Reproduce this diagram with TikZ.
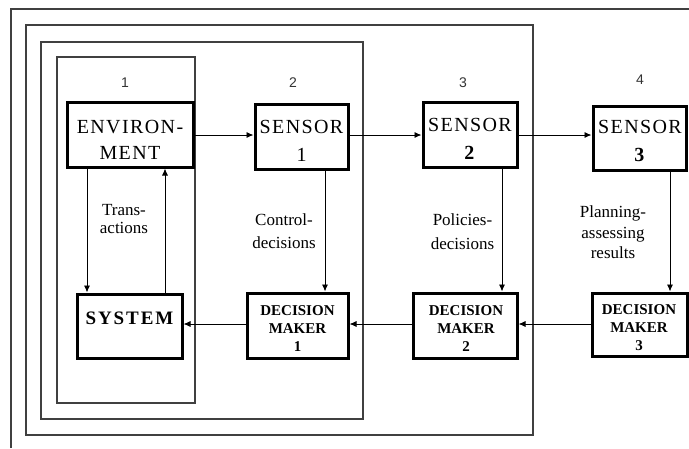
\documentclass[tikz,border=0pt]{standalone}
\usepackage{fontspec}
\setmainfont{Liberation Serif}
\newfontfamily\arialf{Liberation Sans}
\newfontfamily\spacedf[LetterSpace=7]{Liberation Serif}
\newfontfamily\spacedbf[LetterSpace=10]{Liberation Serif Bold}
\usetikzlibrary{arrows.meta}
\begin{document}
\begin{tikzpicture}[x=1pt,y=-1pt,
  frame/.style={draw=black!75,line width=1.2pt},
  box/.style={draw=black,line width=3pt,inner sep=0pt,fill=white},
  arr/.style={draw=black,line width=0.9pt,-{Latex[length=7pt,width=6pt]}},
  big/.style={font=\spacedf\fontsize{20}{26}\selectfont,align=center,inner sep=0pt},
  sysf/.style={font=\spacedbf\fontsize{19}{22}\selectfont,inner sep=0pt},
  dmf/.style={font=\bfseries\fontsize{15}{18}\selectfont,align=center,inner sep=0pt},
  lab/.style={font=\fontsize{17}{21}\selectfont,align=center,inner sep=0pt},
  num/.style={font=\arialf\fontsize{14}{16}\selectfont,text=black!80,inner sep=0pt}]
\useasboundingbox[fill=white] (0,0) rectangle (689,448);
% frames
\draw[frame] (11,448) -- (11,9) -- (689,9);
\draw[frame] (26,25) rectangle (533,435);
\draw[frame] (41,42) rectangle (363,419);
\draw[frame] (57,57) rectangle (195,403);
% boxes
\node[box,minimum width=126,minimum height=65] (env) at (130,134.5) {};
\node[box,minimum width=93,minimum height=65] (s1) at (301.5,136.5) {};
\node[box,minimum width=94,minimum height=65] (s2) at (470,134.5) {};
\node[box,minimum width=93,minimum height=64] (s3) at (639.5,138) {};
\node[box,minimum width=105,minimum height=64] (sys) at (129.5,326) {};
\node[box,minimum width=101,minimum height=65] (dm1) at (297.5,325.5) {};
\node[box,minimum width=104,minimum height=65] (dm2) at (465,325.5) {};
\node[box,minimum width=95,minimum height=63] (dm3) at (639.5,324.5) {};
% box texts
\node[big] (tenv) at (130,140) {ENVIRON-\\MENT};
\node[big,font=\spacedf\fontsize{20}{28}\selectfont] (ts1) at (301.5,141) {SENSOR\\1};
\node[big,font=\spacedf\fontsize{20}{28}\selectfont] (ts2) at (470,139) {SENSOR\\\textbf{2}};
\node[big,font=\spacedf\fontsize{20}{28}\selectfont] (ts3) at (640,141) {SENSOR\\\textbf{3}};
\node[sysf] (tsys) at (129.5,318) {SYSTEM};
\node[dmf] (tdm1) at (297.5,329) {DECISION\\MAKER\\1};
\node[dmf] (tdm2) at (466,328.5) {DECISION\\MAKER\\2};
\node[dmf] (tdm3) at (639,328) {DECISION\\MAKER\\3};
% numbers
\node[num] (n1) at (125,83) {1};
\node[num] (n2) at (293,83) {2};
\node[num] (n3) at (463,83) {3};
\node[num] (n4) at (640,80) {4};
% labels
\node[lab,font=\fontsize{17}{18}\selectfont] (l1) at (124,219) {Trans-\\actions};
\node[lab,font=\fontsize{17}{23}\selectfont] (l2) at (284,231.5) {Control-\\decisions};
\node[lab,font=\fontsize{17}{24}\selectfont] (l3) at (462.5,232) {Policies-\\decisions};
\node[lab,font=\fontsize{17}{20.5}\selectfont] (l4) at (613,232.5) {Planning-\\assessing\\results};
% helper coordinates
\coordinate (hy) at (0,135);
\coordinate (ly) at (0,324);
\coordinate (xa) at (87,0);
\coordinate (xb) at (165,0);
\coordinate (xc) at (325,0);
\coordinate (xd) at (502,0);
\coordinate (xe) at (670,0);
% connectors
\draw[arr] (env.east |- hy) -- (s1.west |- hy);
\draw[arr] (s1.east |- hy) -- (s2.west |- hy);
\draw[arr] (s2.east |- hy) -- (s3.west |- hy);
\draw[arr] (env.south -| xa) -- (sys.north -| xa);
\draw[arr] (sys.north -| xb) -- (env.south -| xb);
\draw[arr] (s1.south -| xc) -- (dm1.north -| xc);
\draw[arr] (s2.south -| xd) -- (dm2.north -| xd);
\draw[arr] (s3.south -| xe) -- (dm3.north -| xe);
\draw[arr] (dm1.west |- ly) -- (sys.east |- ly);
\draw[arr] (dm2.west |- ly) -- (dm1.east |- ly);
\draw[arr] (dm3.west |- ly) -- (dm2.east |- ly);
\end{tikzpicture}
\end{document}
